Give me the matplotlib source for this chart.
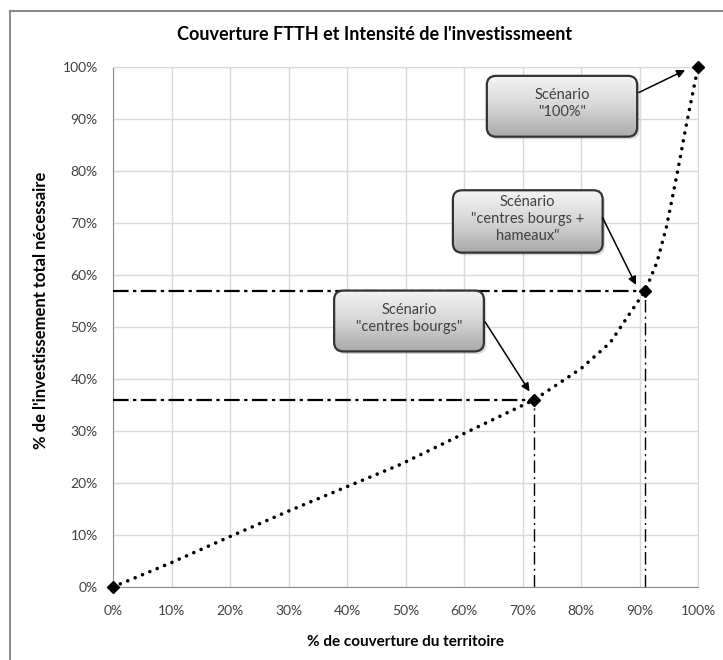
import numpy as np
import matplotlib.pyplot as plt
from matplotlib.patches import FancyBboxPatch
from matplotlib.lines import Line2D
from matplotlib.colors import LinearSegmentedColormap

# Coverage (%) vs share of total investment (%)
coverage = [0, 10, 20, 30, 40, 49, 62, 72, 80, 85, 88.4, 91, 93, 94.6, 96.4, 98.1, 100]
investment = [0, 4.7, 9.7, 14.6, 19.3, 23.5, 30.6, 36, 42, 47, 52.7, 57, 62.5, 69.2, 79.3, 89.4, 100]

# Scenario points
scen_x = [0, 72, 91, 100]
scen_y = [0, 36, 57, 100]
scen_labels = ['Scénario\n"centres bourgs"',
               'Scénario\n"centres bourgs +\nhameaux"',
               'Scénario\n"100%"']

tick_vals = list(range(0, 101, 10))
tick_labels = [f"{v}%" for v in tick_vals]

plt.rcParams['font.family'] = ['Lato', 'DejaVu Sans']
txt_color = '#404040'

fig = plt.figure(figsize=(7.23, 6.6), dpi=100)
ax = fig.add_axes([113 / 723, 1 - 587 / 660, 585 / 723, 520 / 660])

# Chart frame (top and left edges visible)
frame_kw = dict(color='#8c8c8c', lw=1.5, transform=fig.transFigure)
fig.add_artist(Line2D([10 / 723, 10 / 723], [0, 1 - 11 / 660], **frame_kw))
fig.add_artist(Line2D([10 / 723, 1], [1 - 11 / 660, 1 - 11 / 660], **frame_kw))

# Dash-dot guides to the two intermediate scenarios
for sx, sy in zip(scen_x[1:3], scen_y[1:3]):
    ax.plot([0, sx], [sy, sy], color='black', lw=1.6,
            linestyle=(0, (7, 2, 1.5, 2)), zorder=3)
    ax.plot([sx, sx], [0, sy], color='black', lw=1.0,
            linestyle=(0, (9, 3, 1.5, 3)), zorder=3)

# Dotted curve
ax.plot(coverage, investment, color='black', lw=2.6,
        linestyle=(0, (0.01, 2.2)), dash_capstyle='round', zorder=4,
        clip_on=False)
ax.plot(scen_x, scen_y, linestyle='none', marker='D', markersize=6,
        color='black', zorder=5, clip_on=False)

# Callout boxes: (x0, x1, y0, y1) in data units, plus arrow start
boxes = [(37.8, 63.4, 45.3, 57.0), (58.1, 83.7, 64.3, 76.3), (63.9, 89.6, 86.6, 98.3)]
arrow_from = [(63.6, 51.0), (83.7, 71.0), (89.9, 95.1)]
arrow_off = [(-0.8, 1.6), (-1.6, 1.1), (-2.2, -0.6)]

box_cmap = LinearSegmentedColormap.from_list('box', ['#a9a9a9', '#d6d6d6', '#f4f4f4'])
grad = np.linspace(0, 1, 100).reshape(-1, 1)
for (x0, x1, y0, y1), lab, (ax0, ay0), (dx, dy), sx, sy in zip(
        boxes, scen_labels, arrow_from, arrow_off, scen_x[1:], scen_y[1:]):
    shadow = FancyBboxPatch((x0 + 0.4, y0 - 0.5), x1 - x0, y1 - y0,
                            boxstyle='round,pad=0,rounding_size=1.6',
                            mutation_aspect=1.1, fc='#00000026', ec='none', zorder=5)
    ax.add_patch(shadow)
    box = FancyBboxPatch((x0, y0), x1 - x0, y1 - y0,
                         boxstyle='round,pad=0,rounding_size=1.6',
                         mutation_aspect=1.1, fc='none', ec='#333333', lw=1.6, zorder=7)
    ax.add_patch(box)
    im = ax.imshow(grad, extent=[x0, x1, y0, y1], cmap=box_cmap, vmin=0, vmax=1,
                   aspect='auto', origin='lower', zorder=6)
    im.set_clip_path(box)
    ax.text((x0 + x1) / 2, (y0 + y1) / 2 + 0.5, lab, ha='center', va='center',
            fontsize=10.5, color=txt_color, linespacing=1.3, zorder=8)
    ax.annotate('', xy=(sx + dx, sy + dy), xytext=(ax0, ay0),
                arrowprops=dict(arrowstyle='-|>', color='black', lw=1.1,
                                mutation_scale=12, shrinkA=0, shrinkB=0), zorder=8)

ax.set_xlim(0, 100)
ax.set_ylim(0, 100)
ax.set_xticks(tick_vals)
ax.set_xticklabels(tick_labels)
ax.set_yticks(tick_vals)
ax.set_yticklabels(tick_labels)
ax.tick_params(length=0, labelsize=10, colors=txt_color)
ax.tick_params(axis='x', pad=13)
ax.tick_params(axis='y', pad=11)
ax.grid(True, color='#d9d9d9', lw=1)
ax.set_axisbelow(True)
for side in ['top', 'right']:
    ax.spines[side].set_color('#d9d9d9')
for side in ['left', 'bottom']:
    ax.spines[side].set_color('#8c8c8c')

fig.text(375 / 723, 1 - 35 / 660, "Couverture FTTH et Intensité de l'investissmeent",
         ha='center', va='center', fontsize=13, fontweight='bold', color='black')
ax.set_xlabel('% de couverture du territoire', fontsize=11, fontweight='bold')
ax.xaxis.set_label_coords(0.5, -(635 - 587) / 520)
ax.set_ylabel("% de l'investissement total nécessaire", fontsize=12, fontweight='bold')
ax.yaxis.set_label_coords(-(113 - 49) / 585, (587 - 310) / 520)

plt.savefig('out.png', dpi=100)
